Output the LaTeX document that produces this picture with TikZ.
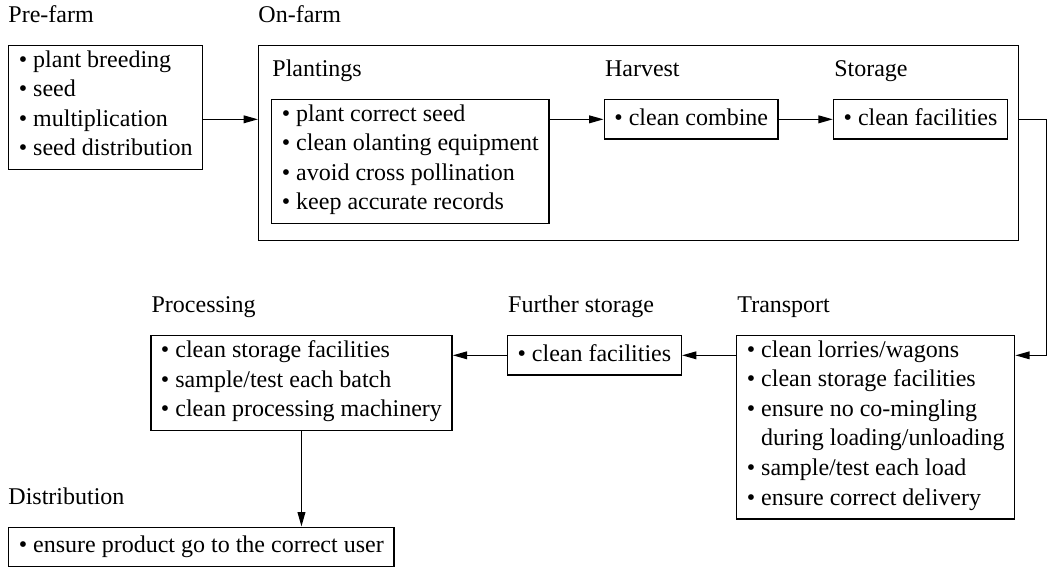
\documentclass[tikz,border=0pt]{standalone}
\usepackage{fontspec}
\setmainfont{Liberation Serif}
\usetikzlibrary{arrows.meta,positioning,calc}
\tikzset{
  ibox/.style={draw, line width=0.6pt, align=left, anchor=north west, inner xsep=4.2pt, inner ysep=2pt,
               font=\fontsize{10}{12.33}\selectfont, execute at begin node=\strut, execute at end node=\strut},
  frame/.style={draw, line width=0.6pt, anchor=north west, inner sep=0pt},
  stage/.style={inner sep=0pt, text depth=0pt, font=\fontsize{10}{12.33}\selectfont},
  flow/.style={-{Triangle[length=6pt,width=3.2pt]}, line width=0.6pt},
}

\begin{document}
\begin{tikzpicture}[x=0.41667pt, y=-0.41667pt, node distance=22.5pt]
    \useasboundingbox (0,0) rectangle (1047,566);
    \node[ibox] (prefarm) at (8,45) {• plant breeding\\• seed\\• multiplication\\• seed distribution};
    \node[frame, minimum width=316.67pt, minimum height=81.25pt] (onfarm) at (258,45) {};
    \node[ibox] (plant) at (271,99) {• plant correct seed\\• clean olanting equipment\\• avoid cross pollination\\• keep accurate records};
    \node[ibox, right=of plant.north east, anchor=north west] (harvest) {• clean combine};
    \node[ibox, right=of harvest.north east, anchor=north west] (storage) {• clean facilities};
    \node[ibox] (transport) at (736,335) {• clean lorries/wagons\\• clean storage facilities\\• ensure no co-mingling\\\phantom{• }during loading/unloading\\• sample/test each load\\• ensure correct delivery};
    \node[ibox, left=of transport.north west, anchor=north east] (further) {• clean facilities};
    \node[ibox, left=of further.north west, anchor=north east] (process) {• clean storage facilities\\• sample/test each batch\\• clean processing machinery};
    \node[ibox] (distrib) at (8,526.5) {• ensure product go to the correct user};
    \node[stage, above right=9pt and 0pt of prefarm.north west] (prefarmlbl) {Pre-farm};
    \node[stage, above right=9pt and 0pt of onfarm.north west] (onfarmlbl) {On-farm};
    \node[stage, above right=9pt and 0.4pt of plant.north west] (plantlbl) {Plantings};
    \node[stage, above right=9pt and 0.4pt of harvest.north west] (harvestlbl) {Harvest};
    \node[stage, above right=9pt and 0.4pt of storage.north west] (storagelbl) {Storage};
    \node[stage, above right=9pt and 0.4pt of transport.north west] (transportlbl) {Transport};
    \node[stage, above right=9pt and 0.4pt of further.north west] (furtherlbl) {Further storage};
    \node[stage, above right=9pt and 0.4pt of process.north west] (processlbl) {Processing};
    \node[stage, above right=9pt and 0pt of distrib.north west] (distriblbl) {Distribution};
    \coordinate (turn) at ($(onfarm.east |- storage.east)+(27,0)$);
    \draw[flow] (prefarm.east |- harvest.west) -- (onfarm.west |- harvest.west);
    \draw[flow] (plant.east |- harvest.west) -- (harvest.west);
    \draw[flow] (harvest) -- (storage);
    \draw[flow] (onfarm.east |- storage.east) -- (turn) |- (transport.east |- further.east);
    \draw[flow] (transport.west |- further.east) -- (further.east);
    \draw[flow] (further.west) -- (process.east |- further.west);
    \draw[flow] (process.south) -- (process.south |- distrib.north);
  \end{tikzpicture}
\end{document}
